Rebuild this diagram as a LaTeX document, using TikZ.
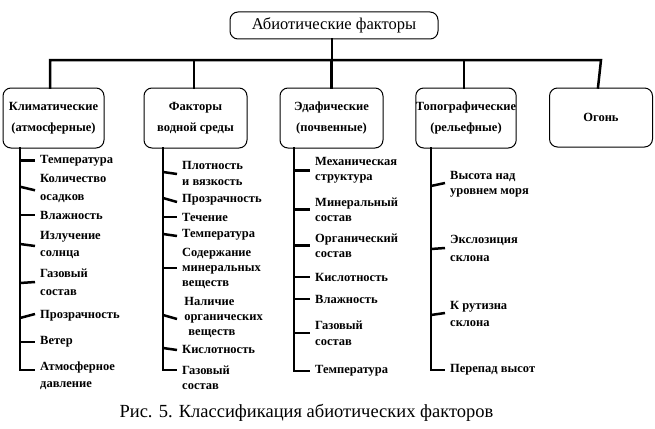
\documentclass[tikz,border=0pt]{standalone}
\usepackage{fontspec}
\setmainfont{Liberation Serif}
\begin{document}
\begin{tikzpicture}[x=1pt,y=-1pt,
  box/.style={draw,line width=1pt,rounded corners=8pt,align=center,font=\bfseries\fontsize{12.5}{21}\selectfont,inner sep=0pt},
  bar/.style={line width=2.5pt,line cap=rect},
  item/.style={anchor=west,align=left,inner xsep=5pt,inner ysep=0pt,font=\bfseries\fontsize{12.5}{16}\selectfont},
  tight/.style={font=\bfseries\fontsize{12.5}{15}\selectfont},
  loose/.style={font=\bfseries\fontsize{12.5}{17.5}\selectfont}]
\useasboundingbox (0,0) rectangle (655,428);

% top
\node[box,font=\fontsize{16.5}{18}\selectfont,minimum width=208pt,minimum height=27pt] (t) at (334,25.5) {Абиотические факторы};
\node[box,minimum width=101pt,minimum height=60pt] (b1) at (53.5,118) {Климатические\\(атмосферные)};
\node[box,minimum width=103pt,minimum height=60pt] (b2) at (195.5,118) {Факторы\\водной среды};
\node[box,minimum width=103pt,minimum height=60pt] (b3) at (331.5,118) {Эдафические\\(почвенные)};
\node[box,minimum width=100pt,minimum height=60pt] (b4) at (466,118) {Топографические\\(рельефные)};
\node[box,minimum width=103pt,minimum height=59pt] (b5) at (601,117.5) {Огонь};

\coordinate (bus) at (0,60);
\draw[bar] ([xshift=-3.5pt]b1.north) |- (b5.north |- bus) -- ([xshift=-3pt]b5.north);
\draw[bar] ([xshift=-2pt]t.south) -- ([xshift=-2pt]t.south |- bus);
\draw[bar] ([xshift=-1.5pt]b2.north) -- ([xshift=-1.5pt]b2.north |- bus);
\draw[bar] (b3.north) -- (b3.north |- bus);
\draw[bar] ([xshift=-2pt]b4.north) -- ([xshift=-2pt]b4.north |- bus);

% column 1
\coordinate (s1) at (20,0);
\node[item] (k1) at (35,160.5) {Температура};
\node[item,loose] (k2) at (35,188.5) {Количество\\осадков};
\node[item] (k3) at (35,215) {Влажность};
\node[item,loose] (k4) at (35,245) {Излучение\\солнца};
\node[item,loose] (k5) at (35,282.5) {Газовый\\состав};
\node[item] (k6) at (35,316) {Прозрачность};
\node[item] (k7) at (35,342) {Ветер};
\node[item,loose] (k8) at (35,375.5) {Атмосферное\\давление};
\draw[bar,line cap=butt] ([yshift=1.25pt]b1.south -| s1) |- ([yshift=5.5pt]k8.west);
\foreach \n/\d in {k1/0,k2/-1.8,k3/0,k4/-1,k5/0.5,k6/2,k7/0}
  \draw[bar,line cap=butt] (s1 |- \n.west) ++(0,\d) -- ([yshift=\d pt]\n.west);

% column 2
\coordinate (s2) at (163,0);
\node[item] (w1) at (177,173) {Плотность\\и вязкость};
\node[item] (w2) at (177,200) {Прозрачность};
\node[item] (w3) at (177,217) {Течение};
\node[item] (w4) at (177,235) {Температура};
\node[item,tight] (w5) at (177,268) {Содержание\\минеральных\\веществ};
\node[item,tight] (w6) at (177,317) {\,Наличие\\\,органических\\\ \ веществ};
\node[item] (w7) at (177,349) {Кислотность};
\node[item,tight] (w8) at (177,377.5) {Газовый\\состав};
\draw[bar,line cap=butt] ([yshift=1.25pt]b2.south -| s2) |- ([yshift=7.5pt]w8.west);
\foreach \n/\d in {w1/-1,w2/-2,w3/0,w4/-1,w5/0,w6/-2,w7/-1}
  \draw[bar,line cap=butt] (s2 |- \n.west) ++(0,\d) -- ([yshift=\d pt]\n.west);

% column 3
\coordinate (s3) at (294,0);
\node[item,tight] (e1) at (310,170.5) {Механическая\\структура};
\node[item,tight] (e2) at (310,209.5) {Минеральный\\состав};
\node[item,tight] (e3) at (310,245.5) {Органический\\состав};
\node[item] (e4) at (310,277) {Кислотность};
\node[item] (e5) at (310,299) {Влажность};
\node[item] (e6) at (310,333) {Газовый\\состав};
\node[item] (e7) at (310,371) {Температура};
\draw[bar,line cap=butt] ([yshift=1.25pt]b3.south -| s3) |- (e7.west);
\foreach \n in {e1,e2,e3,e4,e5,e6}
  \draw[bar,line cap=butt] (s3 |- \n.west) -- (\n.west);

% column 4
\coordinate (s4) at (431,0);
\node[item,tight] (r1) at (445,184.5) {Высота над\\уровнем моря};
\node[item,loose] (r2) at (445,248.5) {Экслозиция\\склона};
\node[item,loose] (r3) at (445,314) {К рутизна\\склона};
\node[item] (r4) at (445,370) {Перепад высот};
\draw[bar,line cap=butt] ([yshift=1.25pt]b4.south -| s4) |- (r4.west);
\foreach \n/\d in {r1/1.5,r2/0.5,r3/1}
  \draw[bar,line cap=butt] (s4 |- \n.west) ++(0,\d) -- ([yshift=\d pt]\n.west);

% caption
\node[font=\fontsize{18.5}{20}\selectfont,inner sep=0pt] (cap) at (306.5,413) {Рис. 5. Классификация абиотических факторов};
\end{tikzpicture}
\end{document}
